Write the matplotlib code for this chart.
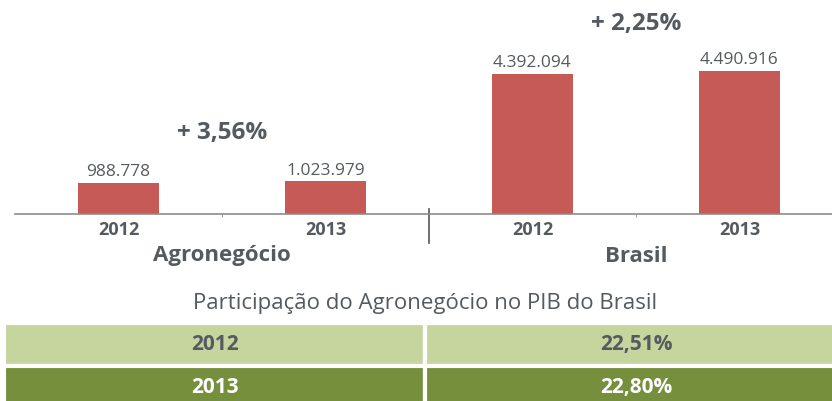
import matplotlib
matplotlib.use('Agg')
import matplotlib.pyplot as plt
import matplotlib.transforms as mtransforms

# PIB values (R$ milhões)
groups = ['Agronegócio', 'Brasil']
years = ['2012', '2013']
agro_values = [988778, 1023979]
brasil_values = [4392094, 4490916]
value_labels = ['988.778', '1.023.979', '4.392.094', '4.490.916']
growth_labels = ['+ 3,56%', '+ 2,25%']

# table: share of agribusiness in Brazil GDP
share_years = ['2012', '2013']
share_values = ['22,51%', '22,80%']
share_title = 'Participação do Agronegócio no PIB do Brasil'

bar_color = '#c65a56'
text_color = '#555a60'
light_green = '#c5d59d'
dark_green = '#768f3c'

plt.rcParams['font.family'] = ['Open Sans', 'DejaVu Sans']

fig = plt.figure(figsize=(8.32, 4.01), dpi=100)
ax = fig.add_axes([15 / 832, 187 / 401, 817 / 832, 214 / 401])

values = agro_values + brasil_values
positions = [0, 1, 2, 3]
ax.bar(positions, values, width=0.39, color=bar_color, zorder=2)
ax.set_xlim(-0.5, 3.447)
ax.set_ylim(0, 6.72e6)

for x, v, lab in zip(positions, values, value_labels):
    ax.annotate(lab, (x, v), xytext=(0, 2), textcoords='offset points',
                ha='center', va='bottom', fontsize=12.5, color=text_color)

# growth between years, placed between each pair of bars
for i, lab in enumerate(growth_labels):
    top = max(values[2 * i:2 * i + 2])
    ax.annotate(lab, (2 * i + 0.5, top), xytext=(0, 26 if i == 0 else 25),
                textcoords='offset points', ha='center', va='bottom',
                fontsize=17.5, fontweight='bold', color=text_color)

for s in ['top', 'right', 'left']:
    ax.spines[s].set_visible(False)
ax.spines['bottom'].set_color('#8c8c8c')
ax.spines['bottom'].set_linewidth(1.2)
ax.set_yticks([])
ax.set_xticks(positions)
ax.set_xticklabels(years * 2, fontsize=13, fontweight='bold', color=text_color)
ax.tick_params(axis='x', length=0, pad=5)
ax.set_xticks([0.5, 2.5], minor=True)
ax.tick_params(axis='x', which='minor', length=2, color='#8c8c8c')

# group names under the years
trans = mtransforms.blended_transform_factory(ax.transData, ax.transAxes)
for i, g in enumerate(groups):
    ax.text(2 * i + 0.5, -42 / 214, g, transform=trans, ha='center', va='center',
            fontsize=16, fontweight='bold', color=text_color)

# separator between the two groups
ax.plot([1.5, 1.5], [5 / 214, -29 / 214], transform=trans, color='#555555',
        linewidth=1.2, clip_on=False)

# table
fig.text(425 / 832, 1 - 304 / 401, share_title, ha='center', va='center',
         fontsize=16, color=text_color)
tax = fig.add_axes([4 / 832, -8 / 401, 843 / 832, 86 / 401])
tax.axis('off')
cell_text = [[y, v] for y, v in zip(share_years, share_values)]
colors = [[light_green] * 2, [dark_green] * 2]
tbl = tax.table(cellText=cell_text, cellColours=colors, cellLoc='center',
                bbox=[0, 0, 1, 1])
tbl.auto_set_font_size(False)
for (r, c), cell in tbl.get_celld().items():
    cell.set_edgecolor('white')
    cell.set_linewidth(3)
    cell.get_text().set_fontsize(15)
    cell.get_text().set_fontweight('bold')
    cell.get_text().set_color(text_color if r == 0 else 'white')

fig.savefig('out.png', dpi=100)
